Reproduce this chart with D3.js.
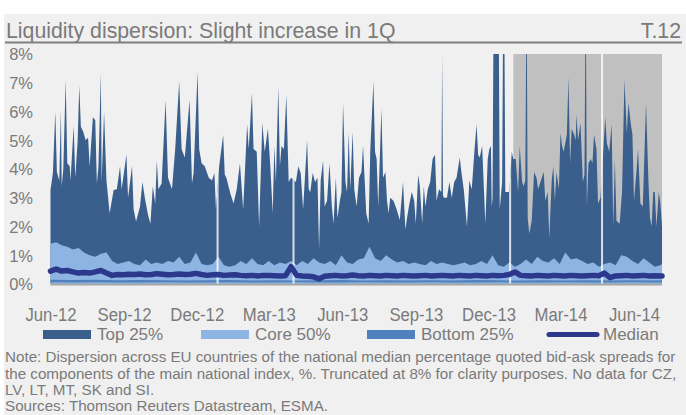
<!DOCTYPE html>
<html><head><meta charset="utf-8">
<script src="https://cdn.jsdelivr.net/npm/d3@7"></script>
<style>
html,body{margin:0;padding:0;background:#fff;}
svg{display:block;font-family:"Liberation Sans",Arial,Helvetica,sans-serif;}
</style></head><body>
<svg id="chart" width="686" height="415"></svg>
<script>
// ---------------- DATA ----------------
const titleText = "Liquidity dispersion: Slight increase in 1Q";
const chartId = "T.12";
const startDate = "2012-06-01";
const lastDay = 765;
const tickDates = ["2012-06-01","2012-09-01","2012-12-01","2013-03-01","2013-06-01","2013-09-01","2013-12-01","2014-03-01","2014-06-01"];
const yTicks = [0,1,2,3,4,5,6,7,8];
const shadeStart = "2014-01-01";
const legendLabels = ["Top 25%","Core 50%","Bottom 25%","Median"];
const noteLines = [
  "Note: Dispersion across EU countries of the national median percentage quoted bid-ask spreads for",
  "the components of the main national index, %. Truncated at 8% for clarity purposes. No data for CZ,",
  "LV, LT, MT, SK and SI.",
  "Sources: Thomson Reuters Datastream, ESMA."
];

// maximum across countries (top of "Top 25%" band), days since start date
const maxDays = [0,3,6,8,11,13,14,16,19,21,24,25,29,31,34,36,38,41,44,47,49,53,56,58,60,63,64,67,70,74,79,83,87,89,95,97,102,104,107,112,115,118,122,125,128,131,133,135,139,144,147,152,156,161,164,168,174,177,179,184,186,189,193,198,202,205,207,211,216,218,220,225,229,233,237,241,246,248,252,254,258,261,265,268,272,
275,278,280,282,285,287,289,292,295,298,301,307,310,313,316,321,323,325,328,331,334,336,338,341,343,346,349,352,354,357,359,362,364,366,369,371,373,375,378,380,383,386,389,391,395,398,400,404,406,408,410,414,416,419,421,423,425,429,433,437,441,444,446,449,452,455,457,460,462,465,467,469,472,475,478,481,483,486,489,490,491,492,496,499,502,505,508,512,514,517,521,524,527,530,533,535,537,540,544,547,549,
551,552,553,554,561,562,565,566,568,569,572,574,577,579,582,585,587,590,592,594,595,596,597,599,602,605,608,610,613,617,619,622,624,627,629,631,633,636,638,640,642,646,648,650,652,655,657,658,660,663,666,668,669,670,671,673,676,678,680,683,685,688,694,696,699,702,704,706,708,712,715,718,721,723,726,728,730,733,735,738,741,745,748,750,752,754,756,758,761,763,765];
const maxValues = [3.27,3.86,6.0,3.9,3.6,6.04,3.4,4.0,7.1,4.2,4.1,3.6,5.5,3.7,5.0,6.9,5.47,5.3,5.0,5.1,4.1,5.8,5.7,3.5,4.1,7.33,3.55,6.0,3.6,2.46,3.27,3.3,4.1,3.3,4.5,3.0,4.1,2.6,2.17,2.7,3.55,3.0,2.4,2.1,3.4,2.8,4.3,3.3,3.5,6.4,3.7,3.3,4.7,7.04,4.7,4.4,6.4,3.5,3.86,7.38,4.7,4.2,4.1,3.7,3.6,3.86,2.6,4.1,5.18,3.8,3.7,3.15,2.8,3.3,4.2,2.6,5.56,4.7,6.63,4.7,4.6,2.0,5.6,4.6,5.4,
4.1,2.46,4.8,3.55,6.86,4.1,4.8,4.7,6.57,3.55,3.7,3.55,4.1,3.86,2.6,5.0,3.3,3.2,3.86,3.55,3.7,1.2,3.6,4.3,2.7,2.9,4.2,2.7,2.1,3.7,2.3,2.9,3.2,6.3,3.55,3.2,5.25,3.3,5.3,3.3,2.7,3.7,3.9,4.8,2.46,2.1,4.6,7.04,4.6,4.35,2.7,6.1,3.7,3.9,2.9,2.46,3.0,2.9,2.6,2.23,3.55,1.9,2.3,2.8,3.2,2.9,2.1,3.8,3.4,2.1,3.4,2.7,3.3,3.55,4.35,4.5,2.9,3.3,3.2,8.0,3.1,3.0,3.0,3.55,3.0,3.55,3.7,4.4,3.9,3.3,2.0,3.6,3.3,4.5,5.56,4.5,4.4,4.8,2.1,4.35,4.7,
4.8,2.7,3.0,8.0,8.0,2.6,3.55,8.0,8.0,3.2,3.2,3.2,4.6,4.35,4.35,3.2,4.8,3.55,3.4,3.6,8.0,8.0,2.3,1.75,2.2,3.9,3.7,3.3,3.55,3.9,2.9,3.2,1.6,3.6,4.1,2.9,3.9,3.3,5.25,4.8,4.6,5.2,7.2,4.2,5.4,5.2,5.0,5.9,5.0,5.6,3.55,3.8,8.0,8.0,2.7,4.2,4.35,4.2,5.2,4.7,2.8,3.0,5.8,4.9,4.6,5.56,2.0,4.35,2.2,2.1,3.2,7.1,5.25,6.3,5.56,5.2,2.9,3.9,4.7,2.8,2.7,6.3,3.6,2.3,2.0,3.2,3.2,2.0,3.2,2.8,2.0];

// weekly series: 75th percentile (top of "Core 50%") and median
const weekDays = d3.range(0, 764, 7).concat([lastDay]);
const p75Values = [1.4,1.45,1.35,1.3, 1.2,1.25,1.1,1.0, 0.95,1.05,1.1,0.8, 0.7,0.75,0.8,0.7,0.65, 0.85,0.7,0.75,0.7, 0.8,0.75,0.95,0.7, 0.75,1.1,0.7,0.65, 0.7,0.95,0.65,0.6, 0.65,0.8,0.7,0.9, 0.7,0.65,0.8,0.65, 0.75,0.7,0.8,0.65, 0.8,0.7,0.9,0.75, 0.7,0.8,0.65,1.0, 0.75,0.7,0.85,0.9, 1.3,0.9,0.8,1.0, 0.85,0.75,0.8,0.7, 0.75,0.7,0.65,0.8, 0.7,0.75,0.7,0.65, 0.7,0.75,0.65,0.7, 0.8,0.7,1.0,0.65, 0.6,0.75,0.6,0.7, 0.85,0.7,0.95,0.8, 0.75,0.9,0.7,1.1, 0.85,0.9,0.8,0.7, 0.75,0.6,0.7,0.75, 0.65,1.0,0.95,0.8, 0.7,0.9,0.75,0.6,0.65, 0.7];
const medianValues = [0.45,0.52,0.45,0.47,0.42,0.38,0.40,0.38,0.42,0.47,0.38,
  0.30,0.33,0.32,0.34,0.33,0.35,0.32,0.33,0.36,0.34,
  0.32,0.33,0.35,0.33,0.34,0.37,0.33,0.30,0.32,0.33,
  0.30,0.31,0.32,0.30,0.29,0.30,0.28,0.30,0.30,0.29,
  0.28,0.29,0.60,0.30,0.28,0.27,0.25,0.18,0.27,0.29,
  0.30,0.28,0.29,0.31,0.29,0.28,0.30,0.29,0.28,0.30,
  0.29,0.28,0.30,0.29,0.28,0.29,0.30,0.28,0.29,0.30,
  0.29,0.28,0.30,0.29,0.28,0.30,0.29,0.28,0.30,0.29,
  0.30,0.33,0.42,0.30,0.29,0.28,0.30,0.29,0.28,0.30,
  0.29,0.28,0.30,0.29,0.28,0.29,0.30,0.29,0.38,0.22,
  0.28,0.29,0.30,0.28,0.29,0.30,0.28,0.29,0.28, 0.28];

// 4-weekly series: 25th percentile (top of "Bottom 25%") and minimum
const lowDays = d3.range(0, 764, 28).concat([lastDay]);
const p25Values = [0.15,0.14,0.15,0.13,0.14,0.13,0.12,0.13,0.14,0.12,0.13,0.12,0.13,0.14,0.12,0.13,0.12,0.13,0.12,0.14,0.13,0.12,0.13,0.12,0.13,0.12,0.13,0.12,0.13];
const minValues = [0.06,0.05,0.06,0.05,0.05,0.06,0.05,0.05,0.06,0.05,0.05,0.06,0.05,0.05,0.06,0.05,0.05,0.06,0.05,0.05,0.06,0.05,0.05,0.06,0.05,0.05,0.06,0.05,0.05];

// days with no data (blank columns)
const gapDays = [209, 304, 575, 690];

// ---------------- DRAW ----------------
const colTop = "#3a5f8c", colCore = "#8db4e2", colBottom = "#4f81bd", colMedian = "#2b388c";
const textCol = "#7a7a7a";
const svg = d3.select("#chart");
const t0 = d3.timeParse("%Y-%m-%d")(startDate);
const dayDate = d => d3.timeDay.offset(t0, d);
const x = d3.scaleTime().domain([t0, dayDate(lastDay)]).range([50.5, 662]);
const y = d3.scaleLinear().domain([0, 8]).range([284, 54]);
const clampV = v => Math.min(8, v);

svg.append("rect").attr("x",0).attr("y",0).attr("width",686).attr("height",415).attr("fill","#ffffff");
svg.append("rect").attr("x",4).attr("y",14).attr("width",682).attr("height",401).attr("fill","#f0f0f0");

// title
svg.append("text").attr("x",6).attr("y",37.5).attr("font-size",21.3).attr("fill",textCol).text(titleText);
svg.append("text").attr("x",681).attr("y",37.5).attr("font-size",21.3).attr("fill",textCol).attr("text-anchor","end").text(chartId);
svg.append("line").attr("x1",5).attr("x2",682).attr("y1",42.5).attr("y2",42.5).attr("stroke","#7f7f7f").attr("stroke-width",2);

// shaded period
const sx = x(d3.timeParse("%Y-%m-%d")(shadeStart));
const shadeW = x(dayDate(lastDay)) - sx;
svg.append("rect").attr("x",sx).attr("y",y(8)).attr("width",shadeW).attr("height",y(0)-y(8)).attr("fill","#c0c0c0");

const maxData = maxDays.map((d,i)=>({date:dayDate(d), v:clampV(maxValues[i])}));
const weekData = weekDays.map((d,i)=>({date:dayDate(d), p75:p75Values[i], med:medianValues[i]}));
const lowData = lowDays.map((d,i)=>({date:dayDate(d), p25:p25Values[i], mn:minValues[i]}));

const maxArea = d3.area().x(d=>x(d.date)).y0(y(0)).y1(d=>y(d.v));
svg.append("path").datum(maxData).attr("fill",colTop).attr("d", maxArea);
svg.append("path").datum(weekData).attr("fill",colCore)
  .attr("d", d3.area().x(d=>x(d.date)).y0(y(0)).y1(d=>y(d.p75)));
svg.append("path").datum(lowData).attr("fill",colBottom)
  .attr("d", d3.area().x(d=>x(d.date)).y0(d=>y(d.mn)).y1(d=>y(d.p25)));

// blank columns (visible only over the filled areas and shaded period)
const clip = svg.append("clipPath").attr("id","gapclip");
clip.append("path").datum(maxData).attr("d", maxArea);
clip.append("rect").attr("x",sx).attr("y",y(8)).attr("width",shadeW).attr("height",y(0)-y(8));
svg.append("g").attr("clip-path","url(#gapclip)")
  .selectAll("rect").data(gapDays).join("rect")
  .attr("x", d=>x(dayDate(d))-1).attr("width",2).attr("y",y(8)).attr("height",y(0)-y(8))
  .attr("fill","#ffffff").attr("opacity",0.8);

// median
svg.append("path").datum(weekData).attr("fill","none").attr("stroke",colMedian).attr("stroke-width",5.5)
  .attr("stroke-linejoin","round").attr("stroke-linecap","round")
  .attr("d", d3.line().x(d=>x(d.date)).y(d=>y(d.med)));

// x axis
svg.append("line").attr("x1",x(t0)).attr("x2",x(dayDate(lastDay))).attr("y1",y(0)+0.5).attr("y2",y(0)+0.5)
  .attr("stroke","#a6a6a6").attr("stroke-width",2);
const xAxis = d3.axisBottom(x).tickValues(tickDates.map(d3.timeParse("%Y-%m-%d")))
  .tickFormat(d3.timeFormat("%b-%y")).tickSize(0).tickPadding(0);
const gx = svg.append("g").call(xAxis);
gx.select(".domain").remove();
gx.selectAll("text").attr("y",321.5).attr("dy",null).attr("font-size",19).attr("fill",textCol)
  .attr("font-family","'Liberation Sans',Arial,sans-serif").attr("transform","scale(0.88,1)");

// y axis
const yAxis = d3.axisLeft(y).tickValues(yTicks).tickFormat(d=>d+"%").tickSize(0).tickPadding(0);
const gy = svg.append("g").attr("transform","translate(33,0)").call(yAxis);
gy.select(".domain").remove();
gy.selectAll("text").attr("dy","0.36em").attr("font-size",16.5).attr("fill",textCol)
  .attr("font-family","'Liberation Sans',Arial,sans-serif");

// legend
const lg = svg.append("g");
const legX = [43, 201, 367, 547];
const legCols = [colTop, colCore, colBottom, colMedian];
legendLabels.forEach((lab,i)=>{
  if (i < 3) {
    lg.append("rect").attr("x",legX[i]).attr("y",330).attr("width",48).attr("height",9).attr("fill",legCols[i]);
  } else {
    lg.append("line").attr("x1",legX[i]+2).attr("x2",legX[i]+50).attr("y1",334.5).attr("y2",334.5)
      .attr("stroke",legCols[i]).attr("stroke-width",5).attr("stroke-linecap","round");
  }
  lg.append("text").attr("x",legX[i]+(i<3?54:56)).attr("y",340).attr("font-size",17).attr("fill",textCol).text(lab);
});

// notes
const noteBase = [362, 378.5, 395, 411];
noteLines.forEach((line,i)=>{
  svg.append("text").attr("x",5).attr("y",noteBase[i])
    .attr("font-size",15.2).attr("fill",textCol).text(line);
});
</script>
</body></html>
